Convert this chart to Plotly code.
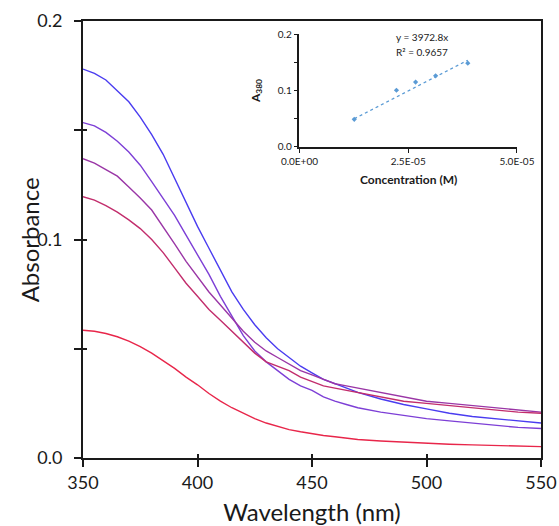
import plotly.graph_objects as go

wavelength = [350, 355, 360, 365, 370, 375, 380, 385, 390, 395, 400, 405, 410, 415, 420,
              425, 430, 435, 440, 445, 450, 455, 460, 465, 470, 480, 490, 500, 510, 520,
              530, 540, 550]

abs_blue = [0.178, 0.176, 0.173, 0.168, 0.163, 0.156, 0.148, 0.139, 0.128, 0.117, 0.106,
            0.096, 0.086, 0.076, 0.068, 0.061, 0.055, 0.050, 0.046, 0.042, 0.039, 0.036,
            0.034, 0.032, 0.030, 0.027, 0.0245, 0.0225, 0.0205, 0.019, 0.018, 0.017, 0.016]
abs_violet = [0.1535, 0.152, 0.149, 0.145, 0.140, 0.134, 0.1265, 0.119, 0.111, 0.102, 0.093,
              0.084, 0.074, 0.065, 0.056, 0.049, 0.044, 0.040, 0.036, 0.033, 0.031, 0.028,
              0.026, 0.0245, 0.023, 0.021, 0.0195, 0.018, 0.017, 0.016, 0.015, 0.014, 0.0135]
abs_purple = [0.137, 0.135, 0.132, 0.129, 0.124, 0.119, 0.1135, 0.106, 0.098, 0.090, 0.083,
              0.076, 0.070, 0.064, 0.058, 0.053, 0.049, 0.046, 0.043, 0.040, 0.038, 0.036,
              0.034, 0.033, 0.032, 0.030, 0.028, 0.026, 0.025, 0.024, 0.023, 0.022, 0.021]
abs_magenta = [0.1196, 0.118, 0.1155, 0.1125, 0.109, 0.105, 0.100, 0.094, 0.087, 0.080, 0.074,
               0.068, 0.063, 0.058, 0.053, 0.048, 0.044, 0.042, 0.040, 0.037, 0.035, 0.033,
               0.032, 0.031, 0.030, 0.028, 0.026, 0.025, 0.024, 0.023, 0.022, 0.021, 0.0205]
abs_red = [0.0585, 0.058, 0.057, 0.0555, 0.0535, 0.051, 0.048, 0.0445, 0.041, 0.037, 0.0335,
           0.0295, 0.026, 0.023, 0.0205, 0.018, 0.016, 0.0145, 0.013, 0.012, 0.011, 0.0103,
           0.0097, 0.009, 0.0085, 0.0078, 0.0072, 0.0067, 0.0063, 0.006, 0.0057, 0.0054, 0.0052]

series = [
    ("blue", abs_blue, "#4a3cf0"),
    ("violet", abs_violet, "#7d3fd6"),
    ("purple", abs_purple, "#9a36a6"),
    ("magenta", abs_magenta, "#c22d6c"),
    ("red", abs_red, "#e8264a"),
]

# Inset calibration data
conc = [1.26e-5, 2.23e-5, 2.67e-5, 3.13e-5, 3.87e-5]
a380 = [0.049, 0.1005, 0.115, 0.126, 0.1485]
slope = 3972.8
r2 = 0.9657
conc_ticks = [0, 2.5e-5, 5e-5]
conc_ticktext = ["0.0E+00", "2.5E-05", "5.0E-05"]

x_ticks = [350, 400, 450, 500, 550]
y_ticks = [0.0, 0.1, 0.2]

FONT = "Lato"
INK = "#1a1a1a"

fig = go.Figure()
for i, (name, vals, col) in enumerate(series):
    fig.add_trace(go.Scatter(
        x=wavelength, y=vals, mode="lines", name=name,
        line=dict(color=col, width=1.4),
        xaxis="x3" if i == len(series) - 1 else "x",
        yaxis="y3" if i == len(series) - 1 else "y",
        showlegend=False,
    ))

trend_x = [min(conc), max(conc)]
trend_y = [slope * c for c in trend_x]
fig.add_trace(go.Scatter(
    x=trend_x, y=trend_y, mode="lines", xaxis="x2", yaxis="y2",
    line=dict(color="#5b9bd5", width=1.3, dash="dot"), showlegend=False,
))
fig.add_trace(go.Scatter(
    x=conc, y=a380, mode="markers", xaxis="x2", yaxis="y2",
    marker=dict(color="#5b9bd5", size=4, symbol="diamond"), showlegend=False,
))

main_font = dict(family=FONT, size=18, color=INK)

fig.update_layout(
    width=559, height=526,
    margin=dict(l=83, r=18, t=21, b=68),
    paper_bgcolor="white", plot_bgcolor="white",
    font=dict(family=FONT, color=INK),
    xaxis=dict(
        domain=[0, 1], anchor="y", range=[350, 550], automargin=False,
        tickvals=x_ticks, ticks="outside", ticklen=7, tickwidth=1.5, tickcolor=INK,
        showline=True, linewidth=2, linecolor=INK, mirror=True,
        showgrid=False, zeroline=False, tickfont=main_font,
        title=dict(text="Wavelength (nm)", font=dict(family=FONT, size=24, color=INK)),
    ),
    yaxis=dict(
        domain=[0, 1], anchor="x", range=[0, 0.2], automargin=False,
        tickvals=y_ticks, tickformat=".1f", ticks="outside", ticklen=7, tickwidth=1.5,
        tickcolor=INK, ticklabelstandoff=8,
        minor=dict(dtick=0.05, ticks="outside", ticklen=7, tickwidth=1.5, tickcolor=INK),
        showline=True, linewidth=2, linecolor=INK, mirror=True,
        showgrid=False, zeroline=False, tickfont=main_font,
    ),
    xaxis3=dict(
        overlaying="x", anchor="y3", range=[350, 550], tickvals=x_ticks, automargin=False,
        ticks="inside", ticklen=4, tickwidth=1.5, tickcolor=INK,
        showticklabels=False, showline=False, showgrid=False, zeroline=False,
    ),
    yaxis3=dict(
        overlaying="y", anchor="x3", range=[0, 0.2], tickvals=y_ticks, automargin=False,
        ticks="inside", ticklen=4, tickwidth=1.5, tickcolor=INK,
        minor=dict(dtick=0.05, ticks="inside", ticklen=4, tickwidth=1.5, tickcolor=INK),
        showticklabels=False, showline=False, showgrid=False, zeroline=False,
    ),
    xaxis2=dict(
        domain=[0.4726, 0.9475], anchor="y2", range=[0, 5e-5], automargin=False,
        tickvals=conc_ticks, ticktext=conc_ticktext,
        ticks="outside", ticklen=4, tickwidth=1.2, tickcolor=INK,
        showline=True, linewidth=1.5, linecolor=INK,
        showgrid=False, zeroline=False, tickfont=dict(family=FONT, size=10, color=INK),
    ),
    yaxis2=dict(
        domain=[0.7117, 0.970], anchor="x2", range=[0, 0.2], automargin=False,
        tickvals=y_ticks, tickformat=".1f",
        ticks="outside", ticklen=4, tickwidth=1.2, tickcolor=INK,
        minor=dict(dtick=0.05, ticks="outside", ticklen=4, tickwidth=1.2, tickcolor=INK),
        showline=True, linewidth=1.5, linecolor=INK,
        showgrid=False, zeroline=False, tickfont=dict(family=FONT, size=10, color=INK),
        title=dict(text="<b>A<sub>380</sub></b>", font=dict(family=FONT, size=12, color=INK)),
    ),
    annotations=[
        dict(text="Absorbance", textangle=-90, xref="paper", yref="paper",
             x=-0.116, y=0.5, xanchor="center", yanchor="middle", showarrow=False,
             font=dict(family=FONT, size=24, color=INK)),
        dict(text="<b>Concentration (M)</b>", xref="paper", yref="paper",
             x=0.710, y=0.638, xanchor="center", yanchor="middle", showarrow=False,
             font=dict(family=FONT, size=12, color=INK)),
        dict(text=f"y = {slope}x", xref="paper", yref="paper", x=0.74, y=0.963,
             showarrow=False, font=dict(family=FONT, size=10, color=INK),
             xanchor="center", yanchor="middle"),
        dict(text=f"R² = {r2}", xref="paper", yref="paper", x=0.74, y=0.929,
             showarrow=False, font=dict(family=FONT, size=10, color=INK),
             xanchor="center", yanchor="middle"),
    ],
)

fig.write_html("out.html", config={"displayModeBar": False},
               post_script="document.body.style.margin='0';")
